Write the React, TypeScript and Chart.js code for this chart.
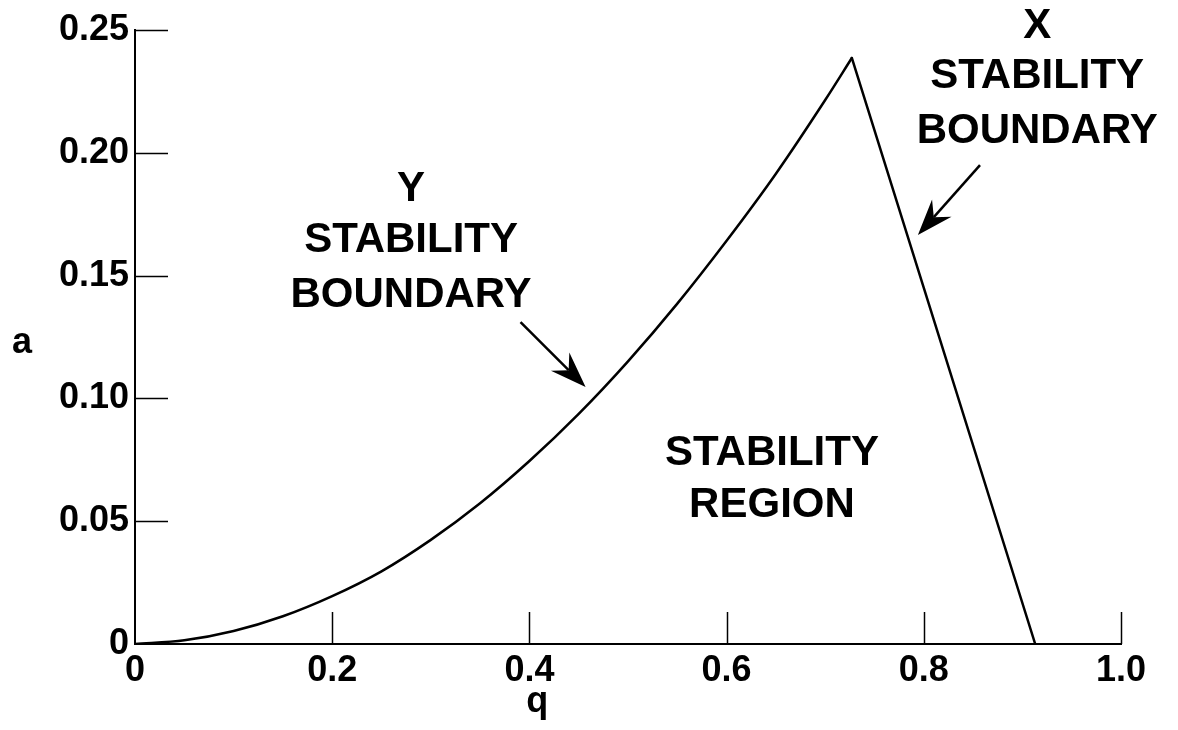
import React, { useEffect, useRef } from "react";
import { Chart, registerables } from "chart.js";

Chart.register(...registerables);

// ---- Data ----
const Y_BOUNDARY_Q = [0, 0.05, 0.10, 0.15, 0.20, 0.25, 0.30, 0.35, 0.40, 0.45, 0.50, 0.55, 0.60, 0.65, 0.70, 0.727];
const Y_BOUNDARY_A = [0, 0.0015, 0.0053, 0.0113, 0.0195, 0.0296, 0.0424, 0.0573, 0.0745, 0.0937, 0.1151, 0.1386, 0.1642, 0.1915, 0.2215, 0.2386];
const X_BOUNDARY_Q = [0.727, 0.80, 0.913];
const X_BOUNDARY_A = [0.2386, 0.145, 0];

const X_TICKS = [0, 0.2, 0.4, 0.6, 0.8, 1.0];
const X_TICK_LABELS = ["0", "0.2", "0.4", "0.6", "0.8", "1.0"];
const Y_TICKS = [0, 0.05, 0.10, 0.15, 0.20, 0.25];
const Y_TICK_LABELS = ["0", "0.05", "0.10", "0.15", "0.20", "0.25"];

const X_TITLE = "q";
const Y_TITLE = "a";

// annotation texts with anchor in data coords (q, a)
const LABEL_Y_LINES = ["Y", "STABILITY", "BOUNDARY"];
const LABEL_Y_Q = 0.28;
const LABEL_Y_A = [0.185, 0.1645, 0.142];
const LABEL_X_LINES = ["X", "STABILITY", "BOUNDARY"];
const LABEL_X_Q = 0.915;
const LABEL_X_A = [0.2516, 0.2309, 0.2089];
const LABEL_R_LINES = ["STABILITY", "REGION"];
const LABEL_R_Q = 0.646;
const LABEL_R_A = [0.0778, 0.0566];

// arrows: [tailQ, tailA, tipQ, tipA]
const ARROW_Y = [0.391, 0.1311, 0.457, 0.1046];
const ARROW_X = [0.857, 0.195, 0.794, 0.1665];

const FONT_FAMILY = '"Liberation Sans", Arial, Helvetica, sans-serif';

function drawArrow(ctx: CanvasRenderingContext2D, x1: number, y1: number, x2: number, y2: number) {
  const dx = x2 - x1;
  const dy = y2 - y1;
  const len = Math.sqrt(dx * dx + dy * dy);
  const ux = dx / len;
  const uy = dy / len;
  const px = -uy;
  const py = ux;
  const headLen = 36;
  const halfW = 13;
  const notch = 24;
  ctx.beginPath();
  ctx.moveTo(x1, y1);
  ctx.lineTo(x2 - ux * notch, y2 - uy * notch);
  ctx.lineWidth = 2.5;
  ctx.stroke();
  ctx.beginPath();
  ctx.moveTo(x2, y2);
  ctx.lineTo(x2 - ux * headLen + px * halfW, y2 - uy * headLen + py * halfW);
  ctx.lineTo(x2 - ux * notch, y2 - uy * notch);
  ctx.lineTo(x2 - ux * headLen - px * halfW, y2 - uy * headLen - py * halfW);
  ctx.closePath();
  ctx.fill();
}

const decorPlugin = {
  id: "decor",
  afterDraw(chart: any) {
    const { ctx, chartArea } = chart;
    const xs = chart.scales.x;
    const ys = chart.scales.y;
    ctx.save();
    ctx.strokeStyle = "#000";
    ctx.fillStyle = "#000";
    // inward tick marks
    ctx.lineWidth = 1.5;
    const TICK_LEN = 32;
    X_TICKS.forEach((v) => {
      if (v === 0) return;
      const px = Math.round(xs.getPixelForValue(v)) + 0.5;
      ctx.beginPath();
      ctx.moveTo(px, chartArea.bottom);
      ctx.lineTo(px, chartArea.bottom - TICK_LEN);
      ctx.stroke();
    });
    Y_TICKS.forEach((v) => {
      if (v === 0) return;
      const py = Math.round(ys.getPixelForValue(v)) + 0.5;
      ctx.beginPath();
      ctx.moveTo(chartArea.left, py);
      ctx.lineTo(chartArea.left + TICK_LEN + 1, py);
      ctx.stroke();
    });

    // axis titles
    ctx.textAlign = "center";
    ctx.textBaseline = "middle";
    ctx.font = `bold 36px ${FONT_FAMILY}`;
    ctx.fillText(X_TITLE, xs.getPixelForValue(0.408), chartArea.bottom + 58);
    ctx.fillText(Y_TITLE, chartArea.left - 113, ys.getPixelForValue(0.121) - 4);

    // annotation texts
    ctx.font = `bold 42px ${FONT_FAMILY}`;
    LABEL_Y_LINES.forEach((t, i) => ctx.fillText(t, xs.getPixelForValue(LABEL_Y_Q), ys.getPixelForValue(LABEL_Y_A[i])));
    LABEL_X_LINES.forEach((t, i) => ctx.fillText(t, xs.getPixelForValue(LABEL_X_Q), ys.getPixelForValue(LABEL_X_A[i])));
    LABEL_R_LINES.forEach((t, i) => ctx.fillText(t, xs.getPixelForValue(LABEL_R_Q), ys.getPixelForValue(LABEL_R_A[i])));

    // arrows
    [ARROW_Y, ARROW_X].forEach((a) => {
      drawArrow(
        ctx,
        xs.getPixelForValue(a[0]),
        ys.getPixelForValue(a[1]),
        xs.getPixelForValue(a[2]),
        ys.getPixelForValue(a[3])
      );
    });
    ctx.restore();
  },
};

export default function App() {
  const canvasRef = useRef<HTMLCanvasElement | null>(null);

  useEffect(() => {
    document.body.style.margin = "0";
    const canvas = canvasRef.current;
    if (!canvas) return;
    const tickFont = { family: FONT_FAMILY, size: 36, weight: "bold" as const };
    const chart = new Chart(canvas, {
      type: "scatter",
      data: {
        datasets: [
          {
            data: Y_BOUNDARY_Q.map((q, i) => ({ x: q, y: Y_BOUNDARY_A[i] })),
            showLine: true,
            borderColor: "#000",
            borderWidth: 2.5,
            pointRadius: 0,
            cubicInterpolationMode: "monotone",
            borderCapStyle: "round",
          },
          {
            data: X_BOUNDARY_Q.map((q, i) => ({ x: q, y: X_BOUNDARY_A[i] })),
            showLine: true,
            borderColor: "#000",
            borderWidth: 2.5,
            pointRadius: 0,
            tension: 0,
            borderCapStyle: "round",
          },
        ],
      },
      options: {
        animation: false,
        responsive: false,
        devicePixelRatio: 1,
        layout: { padding: { top: 30, right: 57, left: 0, bottom: 0 } },
        plugins: {
          legend: { display: false },
          tooltip: { enabled: false },
        },
        scales: {
          x: {
            type: "linear",
            min: 0,
            max: 1,
            afterBuildTicks: (scale: any) => {
              scale.ticks = X_TICKS.map((v) => ({ value: v }));
            },
            afterFit: (scale: any) => {
              scale.height = 86;
            },
            ticks: {
              callback: (_v: any, i: number) => X_TICK_LABELS[i],
              font: tickFont,
              color: "#000",
              padding: 5,
              maxRotation: 0,
              autoSkip: false,
            },
            grid: { display: false, drawTicks: false },
            border: { display: true, color: "#000", width: 2 },
          },
          y: {
            type: "linear",
            min: 0,
            max: 0.25,
            afterBuildTicks: (scale: any) => {
              scale.ticks = Y_TICKS.map((v) => ({ value: v }));
            },
            afterFit: (scale: any) => {
              scale.width = 135;
            },
            ticks: {
              callback: (_v: any, i: number) => Y_TICK_LABELS[i],
              font: tickFont,
              color: "#000",
              padding: 6,
              autoSkip: false,
            },
            grid: { display: false, drawTicks: false },
            border: { display: true, color: "#000", width: 2 },
          },
        },
      },
      plugins: [decorPlugin],
    } as any);
    return () => chart.destroy();
  }, []);

  return <canvas ref={canvasRef} width={1178} height={730} style={{ display: "block" }} />;
}
